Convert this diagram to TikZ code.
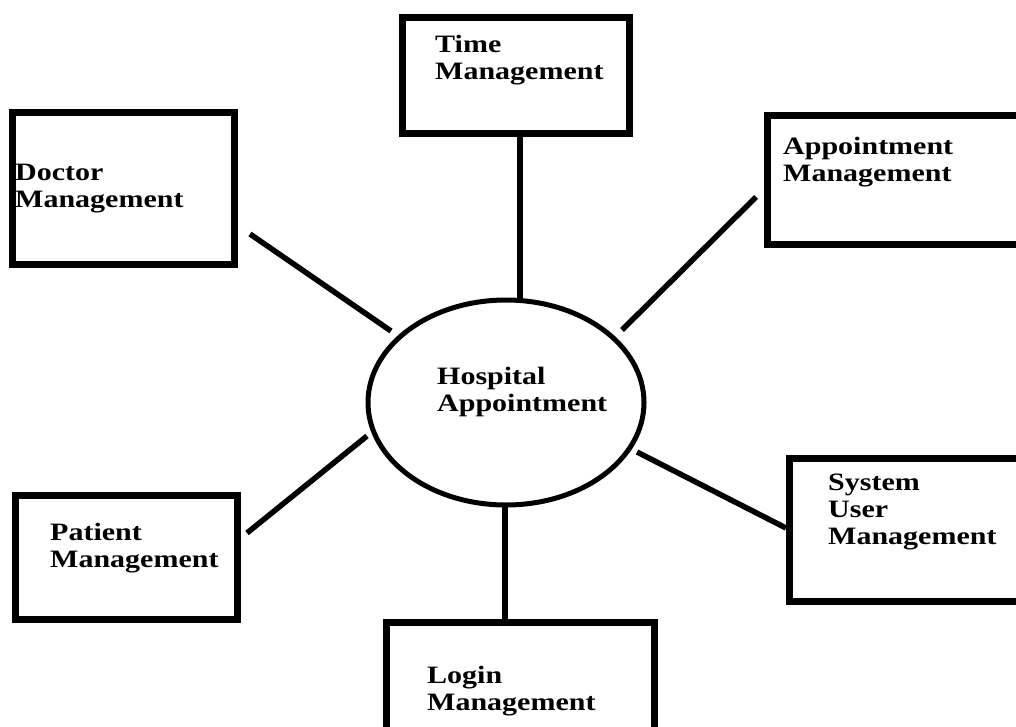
\documentclass[tikz,border=0pt]{standalone}
\usepackage{fontspec}
\setmainfont{Liberation Serif}[FakeStretch=1.2]
\usetikzlibrary{shapes.geometric}
\begin{document}
\begin{tikzpicture}[x=1pt,y=-1pt,
  box/.style={draw, line width=7pt, inner sep=0pt},
  lbl/.style={font=\bfseries\fontsize{25}{27}\selectfont, align=left, anchor=base west, inner sep=0pt},
  link/.style={line width=5.5pt}]
\useasboundingbox (0,0) rectangle (1016,727);
\fill[white] (0,0) rectangle (1016,727);
\clip (0,0) rectangle (1016,727);
% boxes
\node[box, minimum width=227pt, minimum height=116pt] (time) at (516,75.5) {};
\node[box, minimum width=222pt, minimum height=152pt] (doctor) at (123.5,188.5) {};
\node[box, minimum width=262pt, minimum height=129pt] (appt) at (898.5,180) {};
\node[box, minimum width=222pt, minimum height=124pt] (patient) at (126.5,557.5) {};
\node[box, minimum width=240pt, minimum height=143pt] (sys) at (909.5,530) {};
\node[box, minimum width=268pt, minimum height=118pt] (login) at (520.5,681.5) {};
\node[draw, ellipse, line width=5pt, inner sep=0pt, minimum width=276pt, minimum height=205pt] (hosp) at (506,402.5) {};
% labels (anchor = baseline of last line)
\node[lbl] (timet) at (435,80) {Time\\Management};
\node[lbl] (doctort) at (15,208) {Doctor\\Management};
\node[lbl] (apptt) at (783,182) {Appointment\\Management};
\node[lbl] (patientt) at (50,567) {Patient\\Management};
\node[lbl] (syst) at (828,544) {System\\User\\Management};
\node[lbl] (logint) at (427,710) {Login\\Management};
\node[lbl] (hospt) at (437,411) {Hospital\\Appointment};
% connector ends
\coordinate (d1) at (250,234);
\coordinate (d2) at (391,331);
\coordinate (a1) at (756,197);
\coordinate (a2) at (622,330);
\coordinate (p1) at (247,533);
\coordinate (p2) at (367,436);
\coordinate (s1) at (637,452);
\coordinate (s2) at (786,528);
\coordinate (t1) at (520,137);
\coordinate (t2) at (520,300);
\coordinate (l1) at (505,505);
\coordinate (l2) at (505,619);
\draw[link] (t1) -- (t2);
\draw[link] (l1) -- (l2);
\draw[link] (d1) -- (d2);
\draw[link] (a1) -- (a2);
\draw[link] (p1) -- (p2);
\draw[link] (s1) -- (s2);
\end{tikzpicture}
\end{document}
